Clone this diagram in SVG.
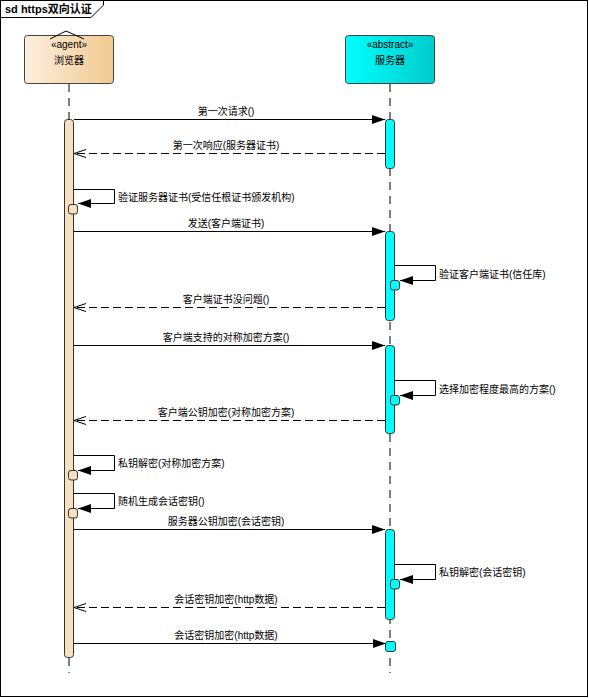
<svg xmlns="http://www.w3.org/2000/svg" width="589" height="698" viewBox="0 0 589 698">
<style>
text{font-family:"Liberation Sans","Noto Sans CJK SC",sans-serif;font-size:10px;fill:#000}
.lbl{text-anchor:middle}
.life{stroke:#000;stroke-width:1;stroke-dasharray:8,6;fill:none}
.msg{stroke:#000;stroke-width:1;fill:none}
.ret{stroke:#000;stroke-width:1;fill:none;stroke-dasharray:8,4}
.abar{fill:#f8dfbf;stroke:#333;stroke-width:1}
.sbar{fill:#00ffff;stroke:#333;stroke-width:1}
</style>
<defs>
<linearGradient id="gAgent" x1="0" y1="0" x2="1" y2="0">
<stop offset="0" stop-color="#fcefdf"/>
<stop offset="1" stop-color="#f1c98f"/>
</linearGradient>
<linearGradient id="gServer" x1="0" y1="0" x2="1" y2="0">
<stop offset="0" stop-color="#00ffff"/>
<stop offset="1" stop-color="#00cccc"/>
</linearGradient>
<marker id="af" markerUnits="userSpaceOnUse" markerWidth="14" markerHeight="10" refX="13" refY="4.5" orient="auto">
<path d="M0,0 L13,4.5 L0,9 z" fill="#000"/>
</marker>
<marker id="ao" markerUnits="userSpaceOnUse" markerWidth="14" markerHeight="10" refX="12.5" refY="4.5" orient="auto">
<path d="M0.5,0.5 L12.5,4.5 L0.5,8.5" fill="none" stroke="#000" stroke-width="1"/>
</marker>
</defs>
<rect x="0" y="0" width="589" height="698" fill="#fff"/>
<g id="frame">
<rect x="0.5" y="0.5" width="587" height="696" fill="none" stroke="#000"/>
<path d="M0.5,17.5 H91 L103.5,5 V0.5" fill="none" stroke="#000"/>
<text x="5" y="13" style="font-weight:bold;font-size:11px">sd https双向认证</text>
</g>
<g id="browser">
<line class="life" x1="69" y1="84" x2="69" y2="673"/>
<rect x="24.5" y="35.5" width="89" height="48" rx="3" fill="url(#gAgent)" stroke="#444"/>
<path d="M50,39 L66,31 L84,39" fill="none" stroke="#000"/>
<text class="lbl" x="69" y="48">«agent»</text>
<text class="lbl" x="69" y="64">浏览器</text>
<rect class="abar" x="64.5" y="119.5" width="9" height="538" rx="3"/>
<rect class="abar" x="68.5" y="204.5" width="9" height="9.5" rx="2.5"/>
<rect class="abar" x="68.5" y="470.5" width="9" height="9.5" rx="2.5"/>
<rect class="abar" x="68.5" y="508.5" width="9" height="9.5" rx="2.5"/>
</g>
<g id="server">
<line class="life" x1="390" y1="84" x2="390" y2="673"/>
<rect x="345.5" y="35.5" width="89" height="48" rx="3" fill="url(#gServer)" stroke="#444"/>
<text class="lbl" x="390" y="48">«abstract»</text>
<text class="lbl" x="390" y="64">服务器</text>
<rect class="sbar" x="385.5" y="119.5" width="9" height="49" rx="3"/>
<rect class="sbar" x="385.5" y="231.5" width="9" height="89" rx="3"/>
<rect class="sbar" x="385.5" y="345.5" width="9" height="88" rx="3"/>
<rect class="sbar" x="385.5" y="529.5" width="9" height="90" rx="3"/>
<rect class="sbar" x="385.5" y="641.5" width="10" height="10" rx="2.5"/>
<rect class="sbar" x="390.5" y="280.5" width="9" height="9.5" rx="2.5"/>
<rect class="sbar" x="390.5" y="395.5" width="9" height="9.5" rx="2.5"/>
<rect class="sbar" x="390.5" y="579.5" width="9" height="9.5" rx="2.5"/>
</g>
<g id="connectors">
<line class="msg" x1="74" y1="119.5" x2="385" y2="119.5" marker-end="url(#af)"/>
<text class="lbl" x="226" y="115">第一次请求()</text>
<line class="ret" x1="385" y1="153.5" x2="74" y2="153.5" marker-end="url(#ao)"/>
<text class="lbl" x="226" y="149">第一次响应(服务器证书)</text>
<path class="msg" d="M74,189.5 H114.5 V203.5 H78" marker-end="url(#af)"/>
<text x="118" y="201">验证服务器证书(受信任根证书颁发机构)</text>
<line class="msg" x1="74" y1="231.5" x2="385" y2="231.5" marker-end="url(#af)"/>
<text class="lbl" x="226" y="227">发送(客户端证书)</text>
<path class="msg" d="M395,265.5 H435.5 V280.5 H400" marker-end="url(#af)"/>
<text x="439" y="278">验证客户端证书(信任库)</text>
<line class="ret" x1="385" y1="307.5" x2="74" y2="307.5" marker-end="url(#ao)"/>
<text class="lbl" x="226" y="303">客户端证书没问题()</text>
<line class="msg" x1="74" y1="345.5" x2="385" y2="345.5" marker-end="url(#af)"/>
<text class="lbl" x="226" y="341">客户端支持的对称加密方案()</text>
<path class="msg" d="M395,380.5 H435.5 V395.5 H400" marker-end="url(#af)"/>
<text x="439" y="393">选择加密程度最高的方案()</text>
<line class="ret" x1="385" y1="420.5" x2="74" y2="420.5" marker-end="url(#ao)"/>
<text class="lbl" x="226" y="416">客户端公钥加密(对称加密方案)</text>
<path class="msg" d="M74,455.5 H114.5 V470.5 H78" marker-end="url(#af)"/>
<text x="118" y="467">私钥解密(对称加密方案)</text>
<path class="msg" d="M74,493.5 H114.5 V508.5 H78" marker-end="url(#af)"/>
<text x="118" y="505">随机生成会话密钥()</text>
<line class="msg" x1="74" y1="529.5" x2="385" y2="529.5" marker-end="url(#af)"/>
<text class="lbl" x="226" y="525">服务器公钥加密(会话密钥)</text>
<path class="msg" d="M395,564.5 H435.5 V579.5 H400" marker-end="url(#af)"/>
<text x="439" y="576">私钥解密(会话密钥)</text>
<line class="ret" x1="385" y1="607.5" x2="74" y2="607.5" marker-end="url(#ao)"/>
<text class="lbl" x="226" y="603">会话密钥加密(http数据)</text>
<line class="msg" x1="74" y1="643.5" x2="386" y2="643.5" marker-end="url(#af)"/>
<text class="lbl" x="226" y="639">会话密钥加密(http数据)</text>
</g>
</svg>
